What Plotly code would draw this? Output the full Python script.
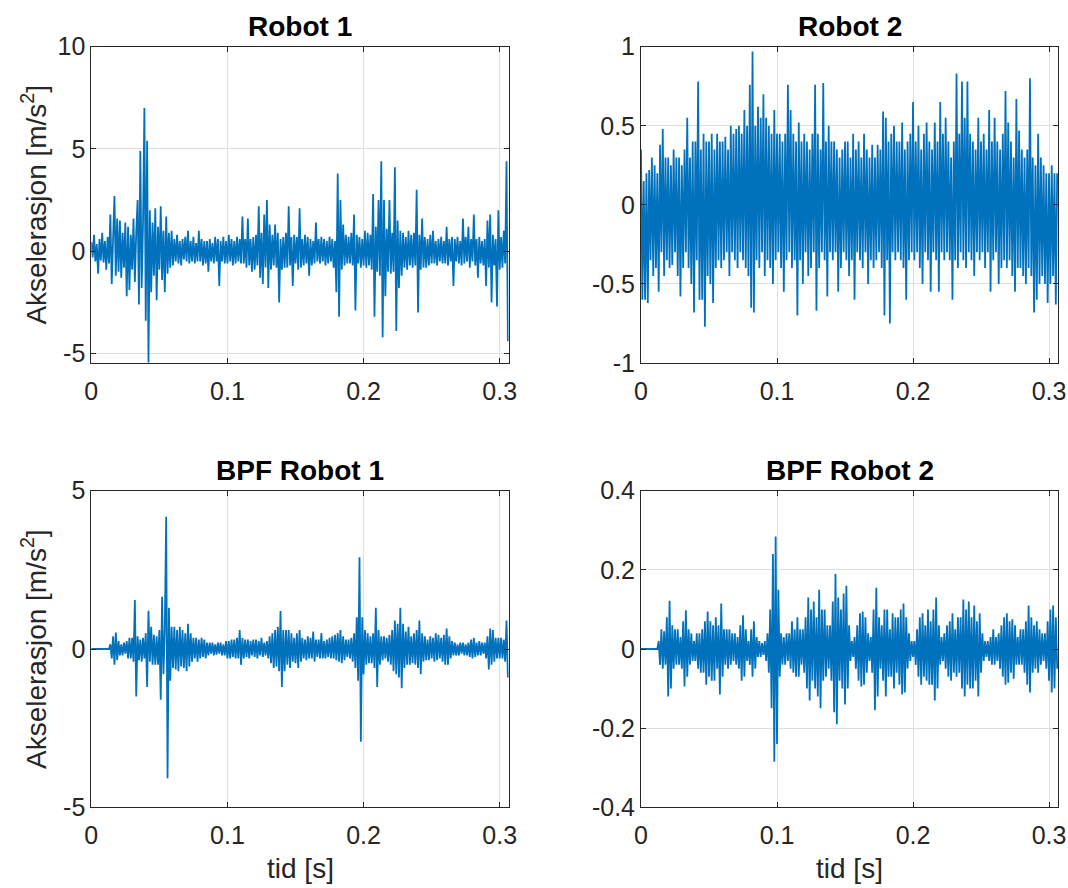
import numpy as np
import plotly.graph_objects as go

# Sampling step of the logged acceleration signals [s]
dt = 0.001

# Raw acceleration, robot 1 [m/s^2]
robot1 = [
    0.45, -0.3, 0.8, -0.5, 0.35, -1.1, 0.6, -0.45, 0.9, -0.55,
    0.5, -0.9, 0.7, -0.6, 1.8, -1.6, 0.6, 2.7, -1.2, 1.6,
    -1.0, 1.5, -1.3, 0.9, -0.8, 1.4, -2.2, 1.2, -1.9, 0.8,
    -0.9, 1.6, -1.5, 0.9, 2.5, -2.6, 4.9, -1.8, 1.4, 7.0,
    -3.4, 5.4, -5.5, 2.0, -2.0, 1.4, -1.2, 2.1, -2.4, 1.2,
    -0.9, 2.2, -1.4, 1.0, -2.0, 1.7, -1.1, 0.9, -0.8, 1.0,
    -0.7, 0.6, -0.5, 0.8, -0.6, 0.5, -0.7, 0.6, -0.4, 0.7,
    -0.5, 1.0, -0.6, 0.5, -0.5, 0.7, -0.6, 0.4, -0.5, 1.0,
    -0.5, 0.6, -0.7, 0.5, -0.6, 0.5, -1.0, 0.6, -0.5, 0.4,
    -0.6, 0.7, -0.5, 0.6, -1.7, 0.5, -0.5, 0.7, -0.6, 0.5,
    -0.6, 0.8, -0.5, 0.6, -0.7, 0.5, -0.6, 0.7, -0.5, 0.6,
    -0.6, 1.7, -0.6, 0.6, -0.8, 1.6, -0.7, 0.6, -1.0, 0.7,
    -0.9, 0.8, -0.7, 2.2, -1.3, 0.9, -1.6, 1.8, -0.8, 2.5,
    -1.8, 1.3, -0.9, 0.8, -0.7, 1.3, -0.8, 0.9, -2.5, 0.6,
    -0.9, 0.7, -0.8, 0.9, -0.8, 2.2, -0.7, 0.7, -1.7, 0.8,
    -0.6, 0.7, -0.9, 2.1, -0.8, 0.6, -0.7, 0.8, -0.6, 0.7,
    -1.2, 0.6, -0.7, 0.5, -0.6, 1.4, -0.5, 0.6, -0.6, 0.7,
    -0.5, 0.6, -0.7, 0.5, -0.6, 0.7, -0.5, 0.6, -0.8, 0.5,
    -2.0, 3.8, -3.2, 2.5, -0.9, 1.3, -0.7, 0.8, -0.6, 0.7,
    -0.6, 0.9, -0.7, 1.8, -2.9, 0.8, -0.6, 0.7, -0.8, 0.6,
    -0.7, 1.0, -0.8, 0.9, -0.7, 0.8, -0.9, 2.8, -3.2, 1.2,
    -1.0, 2.5, -1.2, 4.4, -4.2, 2.5, -2.2, 1.1, -1.0, 2.5,
    -1.1, 0.9, -1.0, 4.1, -3.9, 1.5, -1.8, 1.0, -1.2, 0.9,
    -0.8, 0.7, -0.9, 1.0, -0.7, 0.8, -0.8, 0.9, -0.7, 3.0,
    -3.0, 0.8, -0.9, 1.6, -0.8, 0.7, -0.8, 0.6, -0.7, 0.8,
    -0.6, 1.0, -0.6, 0.5, -0.7, 0.6, -0.5, 0.7, -0.6, 0.5,
    -0.6, 1.2, -0.7, 0.6, -0.5, 0.7, -1.7, 0.6, -0.5, 0.7,
    -0.6, 0.5, -0.7, 1.6, -0.6, 0.7, -0.5, 1.2, -0.8, 0.6,
    -0.5, 1.8, -0.7, 0.6, -1.3, 0.7, -0.6, 0.5, -0.7, 0.6,
    -1.7, 1.5, -0.8, 1.8, -2.5, 0.8, -0.7, 0.6, -2.7, 2.0,
    -0.9, 0.7, -0.8, 1.0, -0.6, 4.4, -4.4,
]

# Raw acceleration, robot 2 [m/s^2]
robot2 = [
    0.35, -0.6, 0.15, -0.6, 0.2, -0.62, 0.22, -0.35, 0.3, -0.45,
    0.25, -0.4, 0.2, -0.55, 0.38, -0.3, 0.48, -0.45, 0.3, -0.35,
    0.3, -0.4, 0.25, -0.38, 0.35, -0.3, 0.3, -0.45, 0.3, -0.58,
    0.25, -0.4, 0.35, -0.3, 0.55, -0.4, 0.3, -0.5, 0.4, -0.68,
    0.4, -0.35, 0.78, -0.6, 0.35, -0.6, 0.45, -0.77, 0.4, -0.45,
    0.4, -0.5, 0.45, -0.62, 0.35, -0.4, 0.45, -0.35, 0.4, -0.4,
    0.4, -0.35, 0.43, -0.3, 0.35, -0.45, 0.5, -0.3, 0.45, -0.35,
    0.48, -0.4, 0.5, -0.3, 0.45, -0.35, 0.6, -0.4, 0.5, -0.45,
    0.76, -0.65, 0.97, -0.68, 0.5, -0.35, 0.62, -0.4, 0.55, -0.3,
    0.7, -0.45, 0.55, -0.35, 0.5, -0.4, 0.45, -0.5, 0.6, -0.35,
    0.45, -0.3, 0.45, -0.4, 0.4, -0.55, 0.45, -0.35, 0.76, -0.3,
    0.6, -0.4, 0.45, -0.35, 0.4, -0.7, 0.52, -0.35, 0.4, -0.5,
    0.45, -0.3, 0.4, -0.45, 0.35, -0.4, 0.45, -0.3, 0.76, -0.67,
    0.45, -0.4, 0.35, -0.3, 0.77, -0.35, 0.4, -0.58, 0.5, -0.3,
    0.4, -0.35, 0.4, -0.3, 0.35, -0.55, 0.3, -0.4, 0.35, -0.3,
    0.4, -0.35, 0.4, -0.45, 0.3, -0.35, 0.45, -0.6, 0.35, -0.3,
    0.4, -0.35, 0.3, -0.4, 0.45, -0.3, 0.35, -0.5, 0.3, -0.35,
    0.38, -0.4, 0.3, -0.35, 0.38, -0.3, 0.35, -0.4, 0.59, -0.7,
    0.55, -0.35, 0.4, -0.75, 0.45, -0.3, 0.5, -0.35, 0.4, -0.3,
    0.4, -0.35, 0.52, -0.4, 0.35, -0.6, 0.4, -0.35, 0.45, -0.3,
    0.65, -0.35, 0.4, -0.3, 0.5, -0.4, 0.35, -0.5, 0.45, -0.3,
    0.52, -0.35, 0.4, -0.55, 0.35, -0.3, 0.52, -0.35, 0.4, -0.55,
    0.65, -0.3, 0.45, -0.35, 0.55, -0.3, 0.4, -0.35, 0.3, -0.6,
    0.4, -0.35, 0.83, -0.4, 0.45, -0.3, 0.78, -0.35, 0.55, -0.4,
    0.78, -0.3, 0.45, -0.35, 0.4, -0.45, 0.35, -0.3, 0.55, -0.35,
    0.4, -0.3, 0.45, -0.4, 0.35, -0.3, 0.6, -0.55, 0.4, -0.35,
    0.55, -0.3, 0.4, -0.5, 0.35, -0.4, 0.45, -0.35, 0.72, -0.4,
    0.52, -0.35, 0.4, -0.45, 0.3, -0.55, 0.67, -0.4, 0.47, -0.4,
    0.35, -0.45, 0.3, -0.5, 0.35, -0.4, 0.8, -0.45, 0.3, -0.68,
    0.25, -0.6, 0.45, -0.5, 0.3, -0.45, 0.25, -0.5, 0.2, -0.62,
    0.2, -0.5, 0.25, -0.45, 0.2, -0.63, 0.2,
]

# Band-pass filtered acceleration, robot 1 [m/s^2]
bpf_robot1 = [
    0, 0, 0, 0, 0, 0, 0, 0, 0, 0,
    0, 0, 0, 0, 0.15, -0.3, 0.4, -0.5, 0.52, -0.35,
    0.25, -0.2, 0.15, -0.2, 0.2, -0.15, 0.25, -0.3, 0.35, -0.3,
    0.35, -0.4, 1.55, -1.5, 0.4, -0.35, 0.3, -0.4, 0.35, -0.3,
    0.5, -1.2, 1.21, -0.4, 0.7, -0.5, 0.45, -0.5, 0.4, -0.5,
    0.6, -1.6, 1.65, -0.8, 0.6, 4.18, -4.08, 1.3, -1.0, 0.7,
    -0.6, 0.7, -0.65, 0.6, -0.7, 0.7, -0.55, 0.6, -0.6, 0.5,
    -0.7, 0.8, -0.55, 0.5, -0.4, 0.35, -0.3, 0.35, -0.4, 0.3,
    -0.3, 0.35, -0.25, 0.3, -0.3, 0.2, -0.2, 0.2, -0.15, 0.2,
    -0.2, 0.15, -0.18, 0.2, -0.15, 0.2, -0.2, 0.15, -0.2, 0.25,
    -0.3, 0.25, -0.3, 0.3, -0.25, 0.3, -0.3, 0.35, -0.3, 0.6,
    -0.5, 0.35, -0.3, 0.3, -0.25, 0.3, -0.3, 0.25, -0.2, 0.3,
    -0.25, 0.3, -0.3, 0.25, -0.2, 0.35, -0.25, 0.2, -0.2, 0.25,
    -0.3, 0.4, -0.45, 0.5, -0.6, 0.6, -0.55, 0.7, -0.7, 1.2,
    -1.2, 0.6, -0.7, 0.6, -0.5, 0.6, -0.6, 0.5, -0.4, 0.35,
    -0.45, 0.5, -0.6, 0.6, -0.4, 0.35, -0.3, 0.3, -0.35, 0.4,
    -0.3, 0.35, -0.3, 0.55, -0.4, 0.3, -0.25, 0.3, -0.3, 0.5,
    -0.3, 0.25, -0.3, 0.3, -0.25, 0.35, -0.3, 0.4, -0.3, 0.45,
    -0.35, 0.5, -0.4, 0.6, -0.45, 0.4, -0.35, 0.3, -0.25, 0.3,
    -0.3, 0.35, -0.4, 0.5, -0.6, 1.0, -1.0, 2.9, -2.93, 1.0,
    -0.8, 0.6, -0.5, 0.5, -0.45, 0.4, -0.45, 0.5, -0.6, 1.3,
    -1.2, 0.6, -0.5, 0.4, -0.35, 0.4, -0.3, 0.35, -0.4, 0.45,
    -0.5, 0.6, -0.7, 0.9, -0.8, 0.8, -0.9, 1.3, -1.24, 0.8,
    -0.6, 0.55, -0.5, 0.7, -0.5, 0.4, -0.45, 0.5, -0.5, 0.6,
    -0.6, 0.9, -0.8, 0.5, -0.4, 0.4, -0.35, 0.3, -0.35, 0.4,
    -0.3, 0.35, -0.4, 0.5, -0.35, 0.45, -0.3, 0.35, -0.4, 0.45,
    -0.5, 0.65, -0.5, 0.4, -0.3, 0.25, -0.2, 0.2, -0.2, 0.15,
    -0.2, 0.2, -0.15, 0.2, -0.2, 0.15, -0.2, 0.2, -0.25, 0.3,
    -0.3, 0.35, -0.25, 0.2, -0.2, 0.25, -0.2, 0.2, -0.15, 0.2,
    -0.3, 0.4, -0.65, 0.65, -0.5, 0.6, -0.4, 0.35, -0.3, 0.35,
    -0.3, 0.35, -0.3, 0.3, -0.4, 0.9, -0.9,
]

# Band-pass filtered acceleration, robot 2 [m/s^2]
bpf_robot2 = [
    0, 0, 0, 0, 0, 0, 0, 0, 0, 0,
    0, 0, 0, 0.02, -0.04, 0.05, -0.05, 0.045, -0.04, 0.08,
    -0.12, 0.122, -0.1, 0.06, -0.05, 0.05, -0.04, 0.05, -0.04, 0.03,
    -0.05, 0.07, -0.095, 0.098, -0.07, 0.05, -0.04, 0.04, -0.03, 0.02,
    -0.03, 0.04, -0.05, 0.04, -0.06, 0.05, -0.06, 0.07, -0.09, 0.095,
    -0.07, 0.07, -0.08, 0.06, -0.08, 0.08, -0.05, 0.06, -0.115, 0.115,
    -0.07, 0.05, -0.04, 0.05, -0.05, 0.05, -0.04, 0.04, -0.03, 0.04,
    -0.04, 0.03, -0.05, 0.06, -0.08, 0.085, -0.07, 0.05, -0.03, 0.02,
    -0.04, 0.05, -0.07, 0.07, -0.05, 0.03, -0.02, 0.02, -0.02, 0.015,
    -0.015, 0.02, -0.03, 0.04, -0.06, 0.1, -0.15, 0.24, -0.285, 0.284,
    -0.24, 0.15, -0.07, 0.04, -0.04, 0.03, -0.04, 0.04, -0.03, 0.04,
    -0.05, 0.07, -0.06, 0.05, -0.07, 0.08, -0.07, 0.05, -0.04, 0.05,
    -0.06, 0.08, -0.1, 0.13, -0.13, 0.1, -0.08, 0.12, -0.1, 0.08,
    -0.12, 0.15, -0.15, 0.1, -0.08, 0.1, -0.07, 0.06, -0.05, 0.06,
    -0.08, 0.12, -0.16, 0.19, -0.19, 0.13, -0.08, 0.1, -0.1, 0.14,
    -0.14, 0.16, -0.1, 0.06, -0.03, 0.02, -0.02, 0.03, -0.05, 0.06,
    -0.08, 0.09, -0.095, 0.095, -0.09, 0.08, -0.06, 0.04, -0.03, 0.03,
    -0.06, 0.1, -0.155, 0.155, -0.12, 0.08, -0.05, 0.06, -0.08, 0.1,
    -0.12, 0.1, -0.07, 0.05, -0.07, 0.09, -0.1, 0.08, -0.06, 0.08,
    -0.09, 0.1, -0.115, 0.115, -0.11, 0.08, -0.05, 0.04, -0.03, 0.02,
    -0.02, 0.02, -0.04, 0.05, -0.07, 0.08, -0.09, 0.09, -0.07, 0.06,
    -0.08, 0.1, -0.09, 0.07, -0.09, 0.1, -0.13, 0.13, -0.1, 0.06,
    -0.04, 0.03, -0.03, 0.04, -0.05, 0.06, -0.07, 0.07, -0.08, 0.09,
    -0.06, 0.05, -0.07, 0.08, -0.06, 0.08, -0.1, 0.125, -0.12, 0.1,
    -0.09, 0.12, -0.1, 0.08, -0.1, 0.11, -0.08, 0.07, -0.12, 0.09,
    -0.06, 0.04, -0.03, 0.02, -0.02, 0.02, -0.03, 0.03, -0.04, 0.05,
    -0.04, 0.03, -0.03, 0.04, -0.05, 0.06, -0.07, 0.08, -0.09, 0.09,
    -0.085, 0.07, -0.06, 0.075, -0.075, 0.06, -0.04, 0.03, -0.04, 0.05,
    -0.04, 0.05, -0.06, 0.07, -0.09, 0.11, -0.11, 0.08, -0.06, 0.06,
    -0.05, 0.07, -0.06, 0.05, -0.04, 0.04, -0.03, 0.04, -0.05, 0.07,
    -0.08, 0.1, -0.11, 0.11, -0.1, 0.08, -0.05,
]

panel_titles = ["Robot 1", "Robot 2", "BPF Robot 1", "BPF Robot 2"]
x_limit = [0, 0.3066]
x_ticks = [0, 0.1, 0.2, 0.3]
y_limits = [[-5.44, 10], [-1, 1], [-5, 5], [-0.4, 0.4]]
y_ticks = [[-5, 0, 5, 10], [-1, -0.5, 0, 0.5, 1], [-5, 0, 5],
           [-0.4, -0.2, 0, 0.2, 0.4]]
y_label = "Akselerasjon [m/s<sup>2</sup>]"
x_label = "tid [s]"

W, H = 1068, 888
LINE = "#0072BD"
AX = "#262626"
GRID = "#dfdfdf"
FONT = "Liberation Sans, Arial, Helvetica, sans-serif"

# plot-area boxes in pixels: (left, right, top, bottom)
boxes = [(91.3, 508.7, 46.7, 362.5), (641, 1058, 46.7, 363),
         (91.3, 508.7, 490.7, 807.3), (641, 1058, 490.7, 807.3)]

def tick_text(vals):
    return [f"{v:g}" for v in vals]

fig = go.Figure()
layout = dict(width=W, height=H,
              margin=dict(l=0, r=0, t=0, b=0, pad=0, autoexpand=False),
              paper_bgcolor="white", plot_bgcolor="white", showlegend=False,
              font=dict(family=FONT, color=AX))
annotations = []

for k, series in enumerate([robot1, robot2, bpf_robot1, bpf_robot2]):
    n = k + 1
    xa = "x" if n == 1 else f"x{n}"
    ya = "y" if n == 1 else f"y{n}"
    t = np.arange(len(series)) * dt
    fig.add_trace(go.Scatter(x=t, y=series, mode="lines", xaxis=xa, yaxis=ya,
                             line=dict(color=LINE, width=1.8, simplify=False),
                             hoverinfo="skip"))
    l, r, tp, b = boxes[k]
    common = dict(showline=True, linecolor=AX, linewidth=1, mirror="ticks",
                  ticks="inside", ticklen=5, tickwidth=1, tickcolor=AX,
                  showgrid=True, gridcolor=GRID, gridwidth=1, zeroline=False,
                  automargin=False,
                  tickfont=dict(family=FONT, size=25, color=AX), fixedrange=True)
    layout["xaxis" if n == 1 else f"xaxis{n}"] = dict(
        common, domain=[l / W, r / W], range=x_limit, anchor=ya,
        tickmode="array", tickvals=x_ticks, ticktext=tick_text(x_ticks),
        ticklabelstandoff=6)
    layout["yaxis" if n == 1 else f"yaxis{n}"] = dict(
        common, domain=[1 - b / H, 1 - tp / H], range=y_limits[k], anchor=xa,
        tickmode="array", tickvals=y_ticks[k], ticktext=tick_text(y_ticks[k]))
    cx = (l + r) / 2 / W
    annotations.append(dict(text=f"<b>{panel_titles[k]}</b>", x=cx,
                            y=1 - (tp - 20) / H, xref="paper", yref="paper",
                            xanchor="center", yanchor="middle", showarrow=False,
                            font=dict(family=FONT, size=28, color="#000000")))
    if k in (0, 2):
        annotations.append(dict(text=y_label, x=34 / W, y=1 - (tp + b) / 2 / H,
                                xref="paper", yref="paper", textangle=-90,
                                xanchor="center", yanchor="middle", showarrow=False,
                                font=dict(family=FONT, size=28, color=AX)))
    if k in (2, 3):
        annotations.append(dict(text=x_label, x=cx, y=1 - 868 / H,
                                xref="paper", yref="paper", xanchor="center",
                                yanchor="middle", showarrow=False,
                                font=dict(family=FONT, size=28, color=AX)))

layout["annotations"] = annotations
fig.update_layout(**layout)
fig.write_html("out.html")
